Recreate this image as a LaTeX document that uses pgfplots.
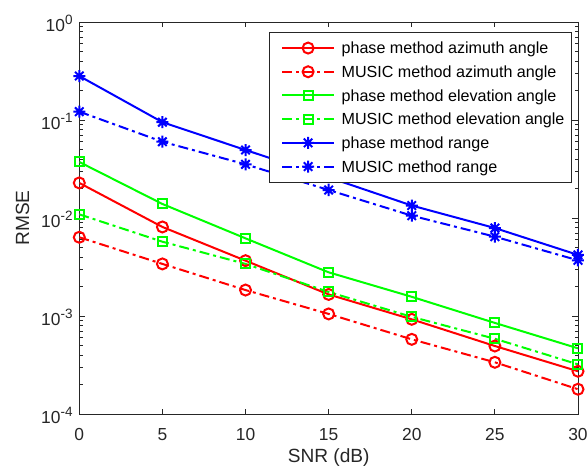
\documentclass[border=0pt]{standalone}
\usepackage{fontspec}
\setmainfont{Liberation Sans}
\usepackage{pgfplots}
\pgfplotsset{compat=1.18}
\definecolor{axgray}{RGB}{38,38,38}
\pgfdeclareplotmark{mstar}{%
 \pgfpathmoveto{\pgfqpoint{0pt}{\pgfplotmarksize}}\pgfpathlineto{\pgfqpoint{0pt}{-\pgfplotmarksize}}%
 \pgfpathmoveto{\pgfqpoint{\pgfplotmarksize}{0pt}}\pgfpathlineto{\pgfqpoint{-\pgfplotmarksize}{0pt}}%
 \pgfpathmoveto{\pgfqpoint{.7071\pgfplotmarksize}{.7071\pgfplotmarksize}}\pgfpathlineto{\pgfqpoint{-.7071\pgfplotmarksize}{-.7071\pgfplotmarksize}}%
 \pgfpathmoveto{\pgfqpoint{-.7071\pgfplotmarksize}{.7071\pgfplotmarksize}}\pgfpathlineto{\pgfqpoint{.7071\pgfplotmarksize}{-.7071\pgfplotmarksize}}%
 \pgfusepathqstroke}
\newcommand{\tp}[1]{10\raisebox{0.42em}{\fontsize{13.5}{15}\selectfont #1}}
\begin{document}
\begin{tikzpicture}
\begin{axis}[
  at={(0pt,0pt)}, anchor=south west,
  scale only axis, width=498.7pt, height=392pt,
  ymode=log, xmin=0, xmax=30, ymin=1e-4, ymax=1,
  xtick={0,5,...,30}, xticklabels={0,5,10,15,20,25,30},
  ytick={1e-4,1e-3,1e-2,1e-1,1},
  yticklabels={\tp{-4},\tp{-3},\tp{-2},\tp{-1},\tp{0}},
  axis line style={axgray, line width=0.8pt},
  every tick/.style={axgray, line width=0.8pt},
  major tick length=5.5pt, minor tick length=3.3pt,
  tick align=inside,
  xticklabel style={font=\fontsize{17.4}{20}\selectfont, text=axgray, anchor=north, inner sep=0pt, yshift=-14.5pt},
  yticklabel style={font=\fontsize{17.4}{20}\selectfont, text=axgray, anchor=east, inner sep=0pt, xshift=-6.5pt, yshift=-1.5pt},
  xlabel={SNR (dB)}, ylabel={RMSE},
  xlabel style={font=\fontsize{19.1}{22}\selectfont, text=axgray, at={(axis description cs:0.5,-0.1122)}, anchor=center, inner sep=0pt},
  ylabel style={font=\fontsize{19.1}{22}\selectfont, text=axgray, at={(axis description cs:-0.1139,0.5)}, anchor=center, inner sep=0pt},
  legend style={at={(rel axis cs:0.3804,0.9737)}, anchor=north west, draw=axgray, line width=0.8pt, fill=white,
     inner xsep=0pt, inner ysep=3.5pt, row sep=0pt, column sep=0pt,
     font=\fontsize{16.1}{18}\selectfont,
     nodes={inner xsep=6.5pt, inner ysep=0pt, text height=17.4pt, text depth=6.3pt, text=black}},
  legend cell align=left,
  legend image code/.code={\path (0pt,0pt) (0pt,-1pt);\draw[mark repeat=2,mark phase=2] plot coordinates {(11.7pt,0pt) (37.7pt,0pt) (63.7pt,0pt)};},
  every axis plot/.append style={line width=2pt},
]
% phase azimuth
\addplot[red, mark=o, mark size=5.5pt, mark options={solid}] coordinates {(0,0.0228) (5,0.0081) (10,0.00367) (15,0.00166) (20,0.000925) (25,0.000494) (30,0.000273)};
\addlegendentry{phase method azimuth angle}
% MUSIC azimuth
\addplot[red, dash pattern=on 10pt off 4pt on 3pt off 4pt, mark=o, mark size=5.5pt, mark options={solid}] coordinates {(0,0.00636) (5,0.0034) (10,0.00184) (15,0.00105) (20,0.000578) (25,0.000337) (30,0.000179)};
\addlegendentry{MUSIC method azimuth angle}
% phase elevation
\addplot[green, mark=square, mark size=4.5pt, mark options={solid}] coordinates {(0,0.0373) (5,0.0139) (10,0.0062) (15,0.00279) (20,0.00157) (25,0.00085) (30,0.000468)};
\addlegendentry{phase method elevation angle}
% MUSIC elevation
\addplot[green, dash pattern=on 10pt off 4pt on 3pt off 4pt, mark=square, mark size=4.5pt, mark options={solid}] coordinates {(0,0.0109) (5,0.00573) (10,0.0034) (15,0.00176) (20,0.00098) (25,0.000586) (30,0.000321)};
\addlegendentry{MUSIC method elevation angle}
% phase range
\addplot[blue, mark=mstar, mark size=6pt, mark options={solid}] coordinates {(0,0.281) (5,0.095) (10,0.0494) (15,0.026) (20,0.0134) (25,0.0079) (30,0.0042)};
\addlegendentry{phase method range}
% MUSIC range
\addplot[blue, dash pattern=on 10pt off 4pt on 3pt off 4pt, mark=mstar, mark size=6pt, mark options={solid}] coordinates {(0,0.1216) (5,0.060) (10,0.0353) (15,0.0193) (20,0.01056) (25,0.00645) (30,0.0037)};
\addlegendentry{MUSIC method range}
\end{axis}
\pgfresetboundingbox
\path (-79.3pt,-59pt) rectangle (507.7pt,414pt);
\end{tikzpicture}
\end{document}
